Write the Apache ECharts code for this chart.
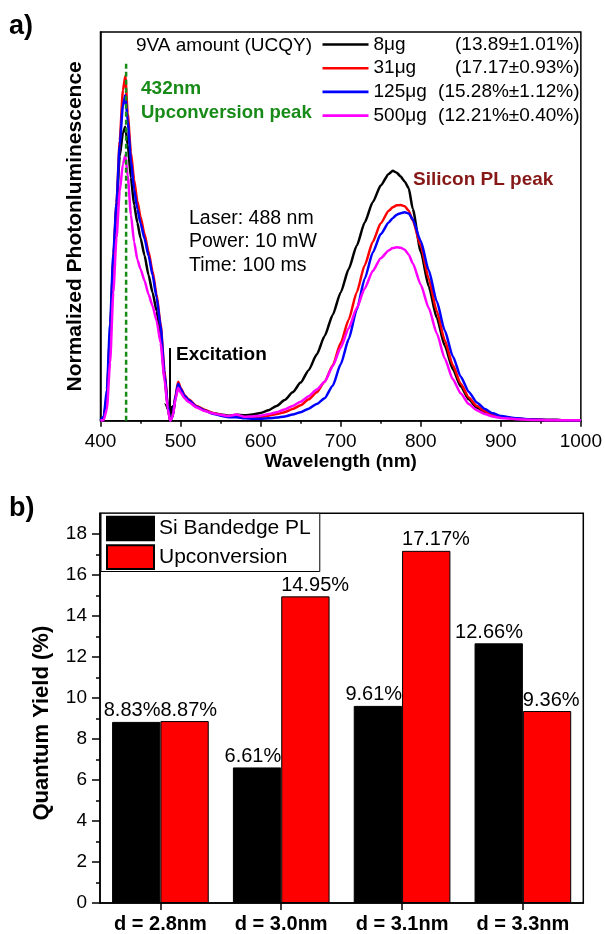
<!DOCTYPE html>
<html>
<head>
<meta charset="utf-8">
<script src="https://cdn.jsdelivr.net/npm/echarts@6/dist/echarts.min.js"></script>
<style>
  html, body { margin: 0; padding: 0; background: #fff; }
  #main { width: 605px; height: 934px; }
</style>
</head>
<body>
<div id="main"></div>
<script>
// ---- Panel a: normalized PL spectra ----
const wavelength = [400, 404, 408, 412, 416, 420, 424, 428, 431, 434, 438, 442, 446, 450, 455, 460, 465, 470, 475, 480,
  484, 487, 490, 494, 497, 500, 505, 510, 520, 530, 540, 550, 560, 570, 580, 590, 600, 610, 620, 630,
  640, 650, 660, 670, 680, 690, 700, 710, 720, 730, 740, 750, 760, 765, 770, 775, 780, 785, 790, 800,
  810, 820, 830, 840, 850, 860, 870, 880, 890, 900, 920, 940, 960, 980, 1000];

const pl8ug = [0, 0.005, 0.06, 0.22, 0.41, 0.55, 0.68, 0.74, 0.756, 0.71, 0.625, 0.555, 0.51, 0.47, 0.425, 0.375, 0.33, 0.283, 0.22, 0.112,
  0.035, 0, 0.01, 0.062, 0.088, 0.075, 0.06, 0.05, 0.036, 0.027, 0.02, 0.016, 0.013, 0.015, 0.014, 0.016, 0.02, 0.027, 0.038, 0.053,
  0.073, 0.098, 0.13, 0.17, 0.218, 0.272, 0.33, 0.39, 0.45, 0.51, 0.562, 0.605, 0.635, 0.643, 0.638, 0.628, 0.615, 0.598, 0.545, 0.435,
  0.345, 0.265, 0.193, 0.133, 0.088, 0.055, 0.034, 0.021, 0.013, 0.009, 0.005, 0.003, 0.002, 0.001, 0.001];

const pl31ug = [0, 0.006, 0.065, 0.225, 0.415, 0.56, 0.72, 0.85, 0.887, 0.79, 0.69, 0.62, 0.565, 0.525, 0.48, 0.435, 0.385, 0.325, 0.25, 0.13,
  0.04, 0, 0.012, 0.07, 0.1, 0.085, 0.066, 0.055, 0.038, 0.028, 0.02, 0.015, 0.011, 0.013, 0.008, 0.009, 0.01, 0.013, 0.017, 0.022,
  0.03, 0.04, 0.055, 0.073, 0.1, 0.142, 0.2, 0.26, 0.33, 0.4, 0.46, 0.508, 0.54, 0.549, 0.554, 0.555, 0.552, 0.54, 0.515, 0.45,
  0.365, 0.282, 0.207, 0.143, 0.095, 0.06, 0.038, 0.024, 0.015, 0.01, 0.005, 0.003, 0.002, 0.001, 0.001];

const pl125ug = [0, 0.01, 0.08, 0.25, 0.43, 0.56, 0.71, 0.81, 0.838, 0.77, 0.67, 0.595, 0.545, 0.508, 0.468, 0.425, 0.375, 0.318, 0.245, 0.12,
  0.04, 0, 0.011, 0.066, 0.095, 0.082, 0.064, 0.053, 0.036, 0.026, 0.018, 0.013, 0.009, 0.009, 0.006, 0.005, 0.005, 0.006, 0.008, 0.011,
  0.016, 0.022, 0.031, 0.043, 0.058, 0.09, 0.145, 0.21, 0.285, 0.365, 0.432, 0.48, 0.51, 0.521, 0.53, 0.534, 0.536, 0.533, 0.518, 0.462,
  0.387, 0.307, 0.232, 0.166, 0.113, 0.074, 0.047, 0.03, 0.019, 0.012, 0.006, 0.003, 0.002, 0.001, 0.001];

const pl500ug = [0, 0.002, 0.03, 0.15, 0.33, 0.47, 0.59, 0.66, 0.683, 0.63, 0.53, 0.46, 0.415, 0.39, 0.36, 0.325, 0.295, 0.258, 0.2, 0.105,
  0.03, 0, 0.01, 0.058, 0.085, 0.073, 0.058, 0.048, 0.034, 0.025, 0.019, 0.015, 0.012, 0.016, 0.01, 0.011, 0.013, 0.017, 0.022, 0.029,
  0.038, 0.049, 0.063, 0.08, 0.1, 0.14, 0.188, 0.238, 0.29, 0.34, 0.385, 0.418, 0.438, 0.444, 0.446, 0.445, 0.44, 0.427, 0.405, 0.35,
  0.29, 0.225, 0.16, 0.107, 0.07, 0.043, 0.027, 0.017, 0.011, 0.007, 0.004, 0.002, 0.001, 0.001, 0.001];

const doseLabels = ['8μg', '31μg', '125μg', '500μg'];
const ucqyLabels = ['(13.89±1.01%)', '(17.17±0.93%)', '(15.28%±1.12%)', '(12.21%±0.40%)'];
const doseColors = ['#000000', '#ff0000', '#0000ff', '#ff00ff'];

// vertical marker at the upconversion peak and the excitation arrow (wavelength, intensity)
const upconversionMarker = [[432, 0], [432, 0.924]];
const excitationArrow = [[487, 0.187], [487, 0.007]];

// ---- Panel b: quantum yields ----
const sizeLabels = ['d = 2.8nm', 'd = 3.0nm', 'd = 3.1nm', 'd = 3.3nm'];
const siBandedgeQY = [8.83, 6.61, 9.61, 12.66];
const upconversionQY = [8.87, 14.95, 17.17, 9.36];
const qyMajorTicks = [0, 2, 4, 6, 8, 10, 12, 14, 16, 18];
const qyMinorTicks = [1, 3, 5, 7, 9, 11, 13, 15, 17];

const FONT = '"Liberation Sans", Arial, Helvetica, sans-serif';
const pair = (xs, ys) => xs.map((x, i) => [x, ys[i]]);
const spectra = [pl8ug, pl31ug, pl125ug, pl500ug];

const chart = echarts.init(document.getElementById('main'), null, { renderer: 'canvas' });

const spectrumSeries = doseLabels.map((name, i) => ({
  name: name,
  type: 'line',
  xAxisIndex: 0,
  yAxisIndex: 0,
  data: pair(wavelength, spectra[i]),
  symbol: 'none',
  smooth: 0.2,
  smoothMonotone: 'x',
  lineStyle: { color: doseColors[i], width: 2.5 },
  itemStyle: { color: doseColors[i] },
  z: 3 + i
}));

const option = {
  animation: false,
  backgroundColor: '#ffffff',
  textStyle: { fontFamily: FONT, color: '#000' },
  grid: [
    { left: 100.5, top: 32, width: 482.8, height: 388.7, show: true, borderColor: '#000', borderWidth: 1.5 },
    { left: 100, top: 513.3, width: 483.3, height: 390, show: true, borderColor: '#000', borderWidth: 1.5 }
  ],
  xAxis: [
    {
      gridIndex: 0, type: 'value', min: 400, max: 1000, interval: 100,
      name: 'Wavelength (nm)', nameLocation: 'middle', nameGap: 32,
      nameTextStyle: { fontFamily: FONT, fontWeight: 'bold', fontSize: 19, color: '#000' },
      axisLine: { lineStyle: { color: '#000', width: 1.5 } },
      axisTick: { show: true, inside: false, length: 6, lineStyle: { color: '#000', width: 1.5 } },
      minorTick: { show: true, splitNumber: 2, length: 3, lineStyle: { color: '#000', width: 1.5 } },
      axisLabel: { fontFamily: FONT, fontSize: 19, color: '#000', margin: 12, formatter: v => String(v) },
      splitLine: { show: false }
    },
    {
      gridIndex: 1, type: 'category', data: sizeLabels,
      axisLine: { lineStyle: { color: '#000', width: 1.5 } },
      axisTick: { show: true, alignWithLabel: true, inside: false, length: 7, lineStyle: { color: '#000', width: 1.5 } },
      axisLabel: { fontFamily: FONT, fontSize: 20, fontWeight: 'bold', color: '#000', margin: 11 },
      splitLine: { show: false }
    }
  ],
  yAxis: [
    {
      gridIndex: 0, type: 'value', min: 0, max: 1,
      name: 'Normalized Photonluminescence', nameLocation: 'middle', nameGap: 15,
      nameTextStyle: { fontFamily: FONT, fontWeight: 'bold', fontSize: 21, color: '#000' },
      axisLine: { show: true, lineStyle: { color: '#000', width: 1.5 } },
      axisTick: { show: false },
      axisLabel: { show: false },
      splitLine: { show: false }
    },
    {
      gridIndex: 1, type: 'value', min: 0, max: 19, interval: 2,
      name: 'Quantum Yield (%)', nameLocation: 'middle', nameGap: 47,
      nameTextStyle: { fontFamily: FONT, fontWeight: 'bold', fontSize: 22, color: '#000', padding: [0, 30, 0, 0] },
      axisLine: { show: true, lineStyle: { color: '#000', width: 1.5 } },
      axisTick: { show: true, inside: false, length: 8, customValues: qyMajorTicks, lineStyle: { color: '#000', width: 1.5 } },
      axisLabel: { fontFamily: FONT, fontSize: 19, color: '#000', margin: 13, customValues: qyMajorTicks },
      splitLine: { show: false }
    },
    {
      gridIndex: 1, type: 'value', min: 0, max: 19, interval: 1, position: 'left',
      axisLine: { show: false },
      axisTick: { show: true, inside: false, length: 4, customValues: qyMinorTicks, lineStyle: { color: '#000', width: 1.5 } },
      axisLabel: { show: false },
      splitLine: { show: false }
    }
  ],
  legend: [
    {
      data: doseLabels,
      orient: 'vertical',
      left: 322.5, top: 35,
      itemWidth: 46, itemHeight: 2.6, itemGap: 4.7,
      icon: 'rect',
      padding: 0,
      selectedMode: false,
      formatter: name => `{n|${name}}{q|${ucqyLabels[doseLabels.indexOf(name)]}}`,
      textStyle: {
        fontFamily: FONT, fontSize: 19, color: '#000',
        rich: {
          n: { fontFamily: FONT, fontSize: 19, color: '#000', width: 56, lineHeight: 20 },
          q: { fontFamily: FONT, fontSize: 19, color: '#000', width: 150, align: 'right', lineHeight: 20 }
        }
      }
    },
    {
      data: ['Si Bandedge PL', 'Upconversion'],
      orient: 'vertical',
      left: 101, top: 513.3,
      itemWidth: 47, itemHeight: 23.6, itemGap: 3,
      padding: [2.4, 9, 1.6, 5],
      icon: 'rect',
      borderColor: '#000', borderWidth: 1,
      backgroundColor: '#fff',
      selectedMode: false,
      textStyle: { fontFamily: FONT, fontSize: 21, color: '#000' }
    }
  ],
  series: [
    ...spectrumSeries,
    {
      name: 'peak marker',
      type: 'line',
      xAxisIndex: 0, yAxisIndex: 0,
      data: upconversionMarker,
      symbol: 'none',
      lineStyle: { color: '#178a17', width: 2.5, type: [5, 3] },
      z: 8,
      silent: true
    },
    {
      name: 'excitation',
      type: 'line',
      xAxisIndex: 0, yAxisIndex: 0,
      data: [],
      symbol: 'none',
      silent: true,
      z: 9,
      markLine: {
        silent: true,
        animation: false,
        symbolSize: [9, 15],
        label: { show: false },
        lineStyle: { color: '#000', width: 2, type: 'solid' },
        data: [[
          { coord: excitationArrow[0], symbol: 'none' },
          { coord: excitationArrow[1], symbol: 'arrow' }
        ]]
      }
    },
    {
      name: 'Si Bandedge PL',
      type: 'bar',
      xAxisIndex: 1, yAxisIndex: 1,
      data: siBandedgeQY,
      barGap: 0,
      barCategoryGap: '20%',
      itemStyle: { color: '#000000', borderColor: '#000', borderWidth: 1 },
      label: {
        show: true, position: 'top', distance: 1, align: 'right', offset: [24.2, 0],
        fontFamily: FONT, fontSize: 20, color: '#000',
        formatter: p => p.value.toFixed(2) + '%'
      }
    },
    {
      name: 'Upconversion',
      type: 'bar',
      xAxisIndex: 1, yAxisIndex: 1,
      data: upconversionQY,
      barGap: 0,
      barCategoryGap: '20%',
      itemStyle: { color: '#ff0000', borderColor: '#000', borderWidth: 1 },
      label: {
        show: true, position: 'top', distance: 1, align: 'left', offset: [-24.2, 0],
        fontFamily: FONT, fontSize: 20, color: '#000',
        formatter: p => p.value.toFixed(2) + '%'
      }
    }
  ],
  graphic: [
    { type: 'text', left: 9, top: 13, style: { text: 'a)', font: `bold 27px ${FONT}`, fill: '#000' } },
    { type: 'text', left: 9, top: 495, style: { text: 'b)', font: `bold 27px ${FONT}`, fill: '#000' } },
    { type: 'text', x: 136, y: 46, style: { text: '9VA amount (UCQY)', font: `19px ${FONT}`, fill: '#000', textVerticalAlign: 'middle' } },
    { type: 'text', x: 141, y: 88.3, style: { text: '432nm', font: `bold 19px ${FONT}`, fill: '#178a17', textVerticalAlign: 'middle' } },
    { type: 'text', x: 141, y: 113.3, style: { text: 'Upconversion peak', font: `bold 18.5px ${FONT}`, fill: '#178a17', textVerticalAlign: 'middle' } },
    { type: 'text', x: 189, y: 218.3, style: { text: 'Laser: 488 nm', font: `19.5px ${FONT}`, fill: '#000', textVerticalAlign: 'middle' } },
    { type: 'text', x: 189, y: 241.7, style: { text: 'Power: 10 mW', font: `19.5px ${FONT}`, fill: '#000', textVerticalAlign: 'middle' } },
    { type: 'text', x: 189, y: 266, style: { text: 'Time: 100 ms', font: `19.5px ${FONT}`, fill: '#000', textVerticalAlign: 'middle' } },
    { type: 'text', x: 176, y: 355, style: { text: 'Excitation', font: `bold 19px ${FONT}`, fill: '#000', textVerticalAlign: 'middle' } },
    { type: 'text', x: 413, y: 179.3, style: { text: 'Silicon PL peak', font: `bold 19px ${FONT}`, fill: '#861818', textVerticalAlign: 'middle' } }
  ]
};

chart.setOption(option);
</script>
</body>
</html>
